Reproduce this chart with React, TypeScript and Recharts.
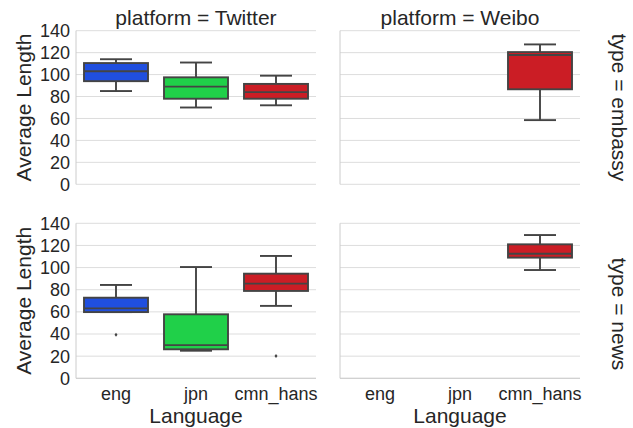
import { ComposedChart, Bar, XAxis, YAxis, CartesianGrid } from "recharts";

const languages = ["eng", "jpn", "cmn_hans"];
const boxColors = ["#204FDF", "#20D049", "#CB1D25"];
const yTicks = [0, 20, 40, 60, 80, 100, 120, 140];

// [lower whisker, Q1, median, Q3, upper whisker]
type Box = [number, number, number, number, number] | null;
const twitterEmbassyBoxes: Box[] = [
  [85, 94, 103, 110.5, 114],
  [70, 78, 89, 97.5, 111],
  [72, 78, 84, 91.5, 99],
];
const weiboEmbassyBoxes: Box[] = [null, null, [58.5, 86.6, 117.8, 120.5, 127.5]];
const twitterNewsBoxes: Box[] = [
  [59.8, 59.8, 63.2, 72.8, 84.3],
  [24.9, 26.2, 30, 57.8, 100.5],
  [65.4, 78.9, 85.5, 94.5, 110.5],
];
const weiboNewsBoxes: Box[] = [null, null, [97.8, 109, 112.5, 121, 129.4]];
const twitterNewsOutliers: number[][] = [[39.4], [], [20.2]];

const FONT = "'Liberation Sans', Arial, sans-serif";
const TEXT = "#262626";
const LINE = "#444444";

const BoxShape = (props: any) => {
  const { x, y, width, height, payload } = props;
  const b = payload?.box;
  if (!b) return null;
  const [lo, q1, med, q3, hi] = b;
  const top = Math.min(y, y + height);
  const h = Math.abs(height);
  const unit = h / (hi - lo);
  const py = (v: number) => top + (hi - v) * unit;
  const cx = x + width / 2;
  const cap = width / 4;
  return (
    <g>
      <line x1={cx} x2={cx} y1={py(hi)} y2={py(q3)} stroke={LINE} strokeWidth={1.9} />
      <line x1={cx} x2={cx} y1={py(q1)} y2={py(lo)} stroke={LINE} strokeWidth={1.9} />
      <line x1={cx - cap} x2={cx + cap} y1={py(hi)} y2={py(hi)} stroke={LINE} strokeWidth={1.9} />
      <line x1={cx - cap} x2={cx + cap} y1={py(lo)} y2={py(lo)} stroke={LINE} strokeWidth={1.9} />
      <rect x={x} y={py(q3)} width={width} height={py(q1) - py(q3)} fill={payload.color} stroke={LINE} strokeWidth={1.9} />
      <line x1={x} x2={x + width} y1={py(med)} y2={py(med)} stroke={LINE} strokeWidth={1.9} />
      {payload.outliers.map((o: number, i: number) => (
        <path
          key={i}
          d={`M${cx},${py(o) - 2} L${cx + 1.5},${py(o)} L${cx},${py(o) + 2} L${cx - 1.5},${py(o)} Z`}
          fill={LINE}
        />
      ))}
    </g>
  );
};

const XTick = ({ x, y, payload }: any) => (
  <text x={x} y={y + 22} textAnchor="middle" fill={TEXT} fontSize={18} fontFamily={FONT}>
    {payload.value}
  </text>
);

const EmptyTick = () => <g />;

interface PanelProps {
  boxes: Box[];
  outliers?: number[][];
  left: number;
  top: number;
  width: number;
  height: number;
  margin: { top: number; right: number; bottom: number; left: number };
  yAxisWidth: number;
  xAxisHeight: number;
  showYTicks: boolean;
  showXTicks: boolean;
}

const Panel = ({
  boxes,
  outliers,
  left,
  top,
  width,
  height,
  margin,
  yAxisWidth,
  xAxisHeight,
  showYTicks,
  showXTicks,
}: PanelProps) => {
  const data = languages.map((lang, i) => ({
    lang,
    range: boxes[i] ? [boxes[i]![0], boxes[i]![4]] : null,
    box: boxes[i],
    color: boxColors[i],
    outliers: outliers ? outliers[i] : [],
  }));

  return (
    <div style={{ position: "absolute", left, top, width, height }}>
      <ComposedChart width={width} height={height} data={data} margin={margin}>
        <CartesianGrid horizontal vertical={false} stroke="#dddddd" strokeWidth={1} />
        <XAxis
          dataKey="lang"
          type="category"
          height={xAxisHeight}
          axisLine={{ stroke: "#cccccc" }}
          tickLine={false}
          tickSize={0}
          tickMargin={0}
          interval={0}
          tick={showXTicks ? <XTick /> : <EmptyTick />}
        />
        <YAxis
          type="number"
          domain={[0, 140]}
          ticks={yTicks}
          interval={0}
          width={yAxisWidth}
          axisLine={{ stroke: "#cccccc" }}
          tickLine={false}
          tickSize={0}
          tickMargin={6}
          tick={showYTicks ? { fill: TEXT, fontSize: 18, fontFamily: FONT } : <EmptyTick />}
        />
        <Bar dataKey="range" barSize={64} shape={<BoxShape />} isAnimationActive={false} />
      </ComposedChart>
    </div>
  );
};

export default function App() {
  const textStyle = { fill: TEXT, fontFamily: FONT, fontSize: 21 };
  return (
    <div style={{ position: "absolute", left: 0, top: 0, width: 633, height: 428, background: "#ffffff" }}>
      <Panel
        boxes={twitterEmbassyBoxes}
        left={0}
        top={0}
        width={330}
        height={200}
        margin={{ top: 30.7, right: 14, bottom: 15.7, left: 0 }}
        yAxisWidth={76}
        xAxisHeight={0}
        showYTicks
        showXTicks={false}
      />
      <Panel
        boxes={weiboEmbassyBoxes}
        left={330}
        top={0}
        width={270}
        height={200}
        margin={{ top: 30.7, right: 20, bottom: 15.7, left: 0 }}
        yAxisWidth={10}
        xAxisHeight={0}
        showYTicks={false}
        showXTicks={false}
      />
      <Panel
        boxes={twitterNewsBoxes}
        outliers={twitterNewsOutliers}
        left={0}
        top={200}
        width={330}
        height={228}
        margin={{ top: 23.3, right: 14, bottom: 0, left: 0 }}
        yAxisWidth={76}
        xAxisHeight={49.7}
        showYTicks
        showXTicks
      />
      <Panel
        boxes={weiboNewsBoxes}
        left={330}
        top={200}
        width={270}
        height={228}
        margin={{ top: 23.3, right: 20, bottom: 0, left: 0 }}
        yAxisWidth={10}
        xAxisHeight={49.7}
        showYTicks={false}
        showXTicks
      />
      <svg
        width={633}
        height={428}
        style={{ position: "absolute", left: 0, top: 0, pointerEvents: "none" }}
      >
        <text x={196} y={25} textAnchor="middle" {...textStyle}>platform = Twitter</text>
        <text x={460} y={25} textAnchor="middle" {...textStyle}>platform = Weibo</text>
        <text transform="translate(31, 107.5) rotate(-90)" textAnchor="middle" {...textStyle}>Average Length</text>
        <text transform="translate(31, 300.8) rotate(-90)" textAnchor="middle" {...textStyle}>Average Length</text>
        <text x={196} y={423} textAnchor="middle" {...textStyle}>Language</text>
        <text x={460} y={423} textAnchor="middle" {...textStyle}>Language</text>
        <text transform="translate(611.5, 107.5) rotate(90)" textAnchor="middle" {...textStyle}>type = embassy</text>
        <text transform="translate(611.5, 314) rotate(90)" textAnchor="middle" {...textStyle}>type = news</text>
      </svg>
    </div>
  );
}
